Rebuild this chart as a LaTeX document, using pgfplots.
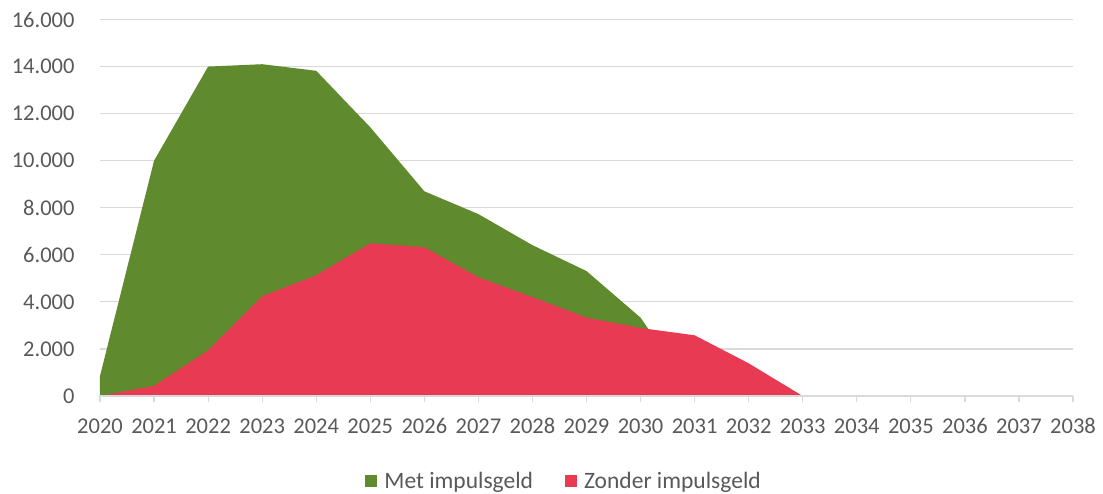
\documentclass[border=0pt]{standalone}
\usepackage{fontspec}
\setmainfont{Carlito}
\usepackage{pgfplots}
\pgfplotsset{compat=1.18}

\definecolor{metgreen}{RGB}{95,139,46}
\definecolor{zonderred}{RGB}{232,58,82}
\definecolor{gridgray}{RGB}{217,217,217}
\definecolor{labelgray}{RGB}{89,89,89}

\begin{document}
\begin{tikzpicture}
\path[use as bounding box] (-100pt,-97pt) rectangle (1003pt,396pt);
\begin{axis}[
    scale only axis,
    width=973pt, height=376.5pt,
    xmin=2020, xmax=2038,
    ymin=0, ymax=16000,
    xtick distance=1,
    ytick distance=2000,
    scaled y ticks=false,
    axis line style={draw=none},
    ymajorgrids,
    grid style={gridgray, line width=1.2pt},
    xtick pos=bottom,
    ytick style={draw=none},
    xtick style={gridgray, line width=1.2pt},
    tick align=outside,
    major tick length=6pt,
    /pgf/number format/assume math mode=true,
    tick label style={font=\fontsize{22.5}{27}\selectfont, text=labelgray},
    xticklabel style={/pgf/number format/1000 sep={}, yshift=-13pt},
    yticklabel style={/pgf/number format/fixed, /pgf/number format/1000 sep={.}, xshift=-16pt},
    legend style={at={(0.477,-0.226)}, anchor=center, draw=none,
        legend columns=2, font=\fontsize{23.5}{28}\selectfont, text=labelgray,
        /tikz/every even column/.append style={column sep=30pt}},
    legend image code/.code={\fill[#1] (0pt,-6pt) rectangle (12pt,6pt);},
    legend cell align=left,
]
\addplot[fill=metgreen, draw=none] coordinates {
    (2020,850) (2021,10000) (2022,14000) (2023,14100) (2024,13820)
    (2025,11420) (2026,8700) (2027,7730) (2028,6410) (2029,5310)
    (2030,3330) (2031,0)
} \closedcycle;
\addlegendentry{\hspace{5pt}Met impulsgeld}
\addplot[fill=zonderred, draw=none] coordinates {
    (2020,0) (2021,430) (2022,1940) (2023,4240) (2024,5130)
    (2025,6490) (2026,6320) (2027,5040) (2028,4200) (2029,3330)
    (2030,2890) (2031,2580) (2032,1390) (2033,0)
} \closedcycle;
\addlegendentry{\hspace{5pt}Zonder impulsgeld}
\draw[gridgray, line width=1.2pt] (axis cs:2020,0) -- (axis cs:2038,0);
\end{axis}
\end{tikzpicture}
\end{document}
